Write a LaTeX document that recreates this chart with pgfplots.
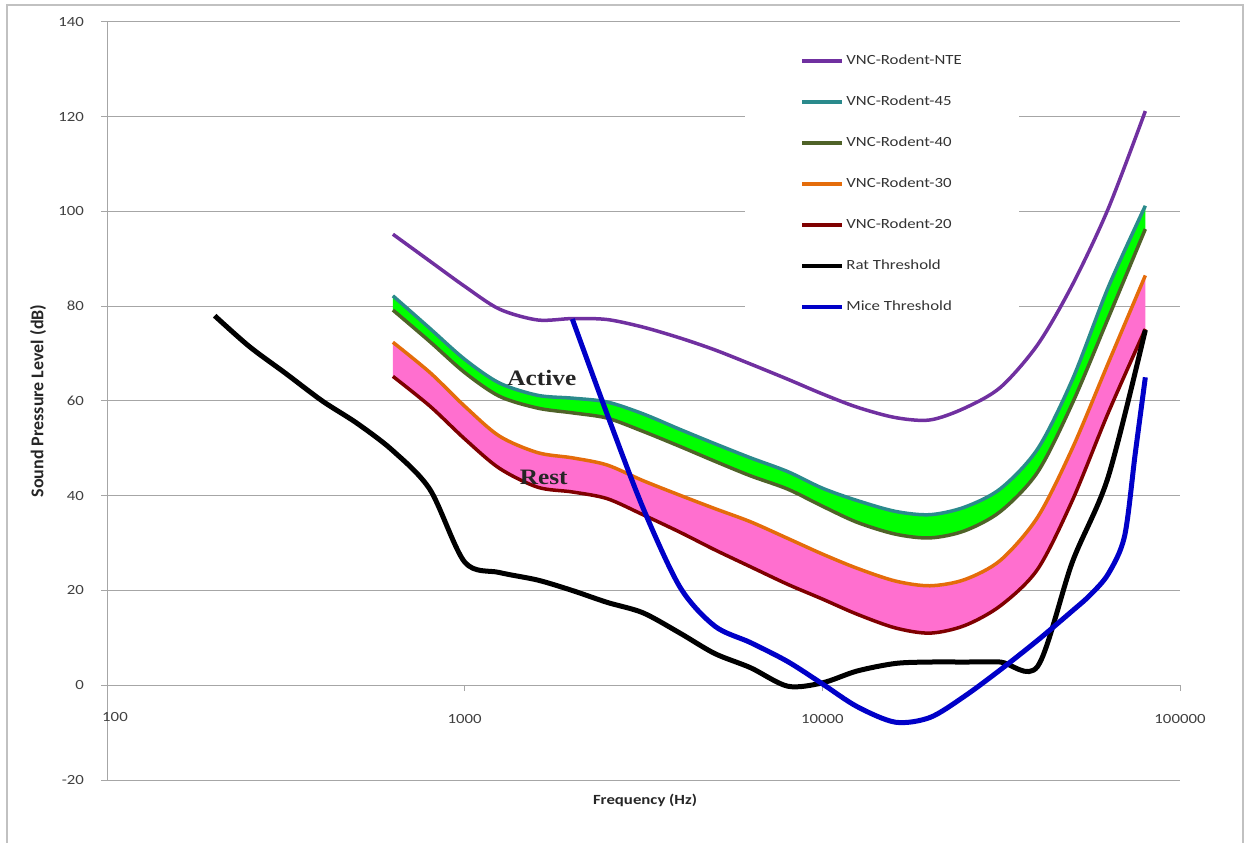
\documentclass[border=0pt]{standalone}
\usepackage{fontspec}
\setmainfont{Carlito}[FakeStretch=1.2]
\newfontfamily\ylabfont{Carlito}
\newfontfamily\bandfont{Liberation Serif}[FakeStretch=1.15]
\usepackage{pgfplots}
\pgfplotsset{compat=1.18}
\definecolor{cNTE}{HTML}{7030A0}
\definecolor{cFF}{HTML}{2A8A8C}
\definecolor{cFO}{HTML}{4F6228}
\definecolor{cTH}{HTML}{E46C0A}
\definecolor{cTW}{HTML}{7F0000}
\definecolor{cRat}{HTML}{000000}
\definecolor{cMice}{HTML}{0000C8}
\definecolor{cGreen}{HTML}{00FF00}
\definecolor{cPink}{HTML}{FF6FCF}
\definecolor{cGrid}{HTML}{A6A6A6}
\definecolor{cTxt}{HTML}{404040}
\begin{document}
\begin{tikzpicture}
\path[use as bounding box] (0bp,0bp) rectangle (623.5bp,421.5bp);
\draw[cGrid!70, line width=0.6bp] (3.5bp,-3bp) -- (3.5bp,419bp) -- (621.5bp,419bp) -- (621.5bp,-3bp);
\begin{axis}[
  at={(53.5bp,31.5bp)}, anchor=south west,
  scale only axis, width=536.5bp, height=379bp,
  xmode=log, xmin=100, xmax=100000, ymin=-20, ymax=140,
  axis x line=middle, axis y line=left,
  axis line style={-, cGrid, line width=0.5bp},
  xminorticks=false,
  xtick={100,1000,10000,100000},
  xticklabels={100,1000,10000,100000},
  ytick={-20,0,20,40,60,80,100,120,140},
  yticklabels={-20,0,20,40,60,80,100,120,140},
  ymajorgrids, grid style={cGrid, line width=0.5bp},
  tick align=outside, major tick length=3bp,
  tick style={cGrid, line width=0.5bp},
  every tick label/.append style={font=\fontsize{7bp}{8bp}\selectfont, text=cTxt},
  xticklabel style={anchor=center, yshift=-14bp},
  yticklabel style={anchor=east, xshift=-5bp},
  xlabel={\textbf{Frequency (Hz)}},
  ylabel={\ylabfont\bfseries Sound Pressure Level (dB)},
  xlabel style={at={(axis description cs:0.5014,-0.0264)}, anchor=center, font=\fontsize{7bp}{8bp}\selectfont, text=black!85},
  ylabel style={at={(axis description cs:-0.0643,0.5)}, anchor=center, font=\fontsize{9bp}{10bp}\selectfont, text=black!85},
  legend cell align=left,
  legend style={at={(rel axis cs:0.5946,0.9703)}, anchor=north west, draw=none, fill=white,
    font=\fontsize{7bp}{8bp}\selectfont, text=black!80,
    row sep=12bp, inner xsep=27.5bp, inner ysep=4bp,
    nodes={text height=5bp, text depth=1.5bp, inner sep=1bp}},
  legend image code/.code={\draw[#1, line width=2bp] (0bp,0bp) -- (20bp,0bp);},
]
\begin{scope}
\clip (axis cs:630,-20) rectangle (axis cs:80000,140);
\addplot[fill=cGreen, draw=none, smooth, forget plot] coordinates {(630,82.2)(800,75.3)(1000,68.8)(1250,63.8)(1600,61.2)(2000,60.6)(2500,59.8)(3150,57.3)(4000,54.0)(5000,51.0)(6300,48.0)(8000,45.1)(10000,41.6)(12500,39.0)(16000,36.7)(20000,36.0)(25000,37.6)(31500,41.5)(40000,49.9)(50000,64.5)(63000,84.0)(80000,101.2)
(80000,96.3)(63000,77.5)(50000,59.5)(40000,45.0)(31500,36.7)(25000,32.6)(20000,31.1)(16000,31.9)(12500,34.4)(10000,37.8)(8000,41.4)(6300,44.2)(5000,47.3)(4000,50.4)(3150,53.6)(2500,56.4)(2000,57.5)(1600,58.5)(1250,61.0)(1000,66.0)(800,72.5)(630,79.2)};
\addplot[fill=cPink, draw=none, smooth, forget plot] coordinates {(630,72.4)(800,66.0)(1000,58.9)(1250,52.6)(1600,49.1)(2000,48.0)(2500,46.5)(3150,43.2)(4000,40.1)(5000,37.3)(6300,34.5)(8000,31.0)(10000,27.7)(12500,24.7)(16000,22.0)(20000,21.0)(25000,22.3)(31500,26.4)(40000,35.5)(50000,50.0)(63000,68.0)(80000,86.5)
(80000,75.2)(63000,57.5)(50000,39.0)(40000,24.5)(31500,16.8)(25000,12.6)(20000,11.0)(16000,12.1)(12500,15.0)(10000,18.2)(8000,21.3)(6300,25.0)(5000,28.6)(4000,32.3)(3150,36.0)(2500,39.4)(2000,40.8)(1600,41.8)(1250,45.8)(1000,52.0)(800,58.9)(630,65.2)};
\end{scope}
\addplot[cNTE, smooth, line width=1.75bp] coordinates {(630,95.2)(800,89.5)(1000,84.2)(1250,79.4)(1600,77.1)(2000,77.4)(2500,77.2)(3150,75.6)(4000,73.3)(5000,70.8)(6300,67.8)(8000,64.6)(10000,61.5)(12500,58.7)(16000,56.5)(20000,56.0)(25000,58.5)(31500,62.9)(40000,71.9)(50000,84.5)(63000,100.6)(80000,121.2)};
\addlegendentry{VNC-Rodent-NTE}
\addplot[cFF, smooth, line width=1.75bp] coordinates {(630,82.2)(800,75.3)(1000,68.8)(1250,63.8)(1600,61.2)(2000,60.6)(2500,59.8)(3150,57.3)(4000,54.0)(5000,51.0)(6300,48.0)(8000,45.1)(10000,41.6)(12500,39.0)(16000,36.7)(20000,36.0)(25000,37.6)(31500,41.5)(40000,49.9)(50000,64.5)(63000,84.0)(80000,101.2)};
\addlegendentry{VNC-Rodent-45}
\addplot[cFO, smooth, line width=1.75bp] coordinates {(630,79.2)(800,72.5)(1000,66.0)(1250,61.0)(1600,58.5)(2000,57.5)(2500,56.4)(3150,53.6)(4000,50.4)(5000,47.3)(6300,44.2)(8000,41.4)(10000,37.8)(12500,34.4)(16000,31.9)(20000,31.1)(25000,32.6)(31500,36.7)(40000,45.0)(50000,59.5)(63000,77.5)(80000,96.3)};
\addlegendentry{VNC-Rodent-40}
\addplot[cTH, smooth, line width=1.75bp] coordinates {(630,72.4)(800,66.0)(1000,58.9)(1250,52.6)(1600,49.1)(2000,48.0)(2500,46.5)(3150,43.2)(4000,40.1)(5000,37.3)(6300,34.5)(8000,31.0)(10000,27.7)(12500,24.7)(16000,22.0)(20000,21.0)(25000,22.3)(31500,26.4)(40000,35.5)(50000,50.0)(63000,68.0)(80000,86.5)};
\addlegendentry{VNC-Rodent-30}
\addplot[cTW, smooth, line width=1.75bp] coordinates {(630,65.2)(800,58.9)(1000,52.0)(1250,45.8)(1600,41.8)(2000,40.8)(2500,39.4)(3150,36.0)(4000,32.3)(5000,28.6)(6300,25.0)(8000,21.3)(10000,18.2)(12500,15.0)(16000,12.1)(20000,11.0)(25000,12.6)(31500,16.8)(40000,24.5)(50000,39.0)(63000,57.5)(80000,75.2)};
\addlegendentry{VNC-Rodent-20}
\addplot[cRat, smooth, line width=2.5bp] coordinates {(200,78.0)(250,71.5)(315,65.9)(400,60.0)(500,55.3)(630,49.5)(800,41.3)(1000,26.0)(1250,23.8)(1600,22.2)(2000,20.0)(2500,17.5)(3150,15.3)(4000,11.0)(5000,6.7)(6300,3.7)(8000,-0.2)(10000,0.5)(12500,3.0)(16000,4.6)(20000,4.9)(25000,4.9)(31500,4.9)(40000,4.0)(50000,26.0)(63000,44.0)(80000,75.0)};
\addlegendentry{Rat Threshold}
\addplot[cMice, smooth, line width=2.5bp] coordinates {(2000,77.3)(2500,57.3)(3150,37.5)(4000,20.7)(5000,12.5)(6300,9.0)(8000,5.0)(10000,0.3)(12500,-4.5)(16000,-7.8)(20000,-6.8)(25000,-2.3)(31500,3.3)(40000,9.5)(50000,15.7)(56000,19.0)(63000,23.5)(70000,31.5)(75000,49.0)(80000,65.0)};
\addlegendentry{Mice Threshold}
\node[font=\bandfont\bfseries\fontsize{11bp}{12bp}\selectfont, text=black!85] at (axis cs:1644,64.8) {Active};
\node[font=\bandfont\bfseries\fontsize{11bp}{12bp}\selectfont, text=black!85] at (axis cs:1663,43.9) {Rest};
\end{axis}
\node[font=\fontsize{7bp}{8bp}\selectfont, text=cTxt, anchor=center] at (57.5bp,63bp) {100};
\end{tikzpicture}
\end{document}
